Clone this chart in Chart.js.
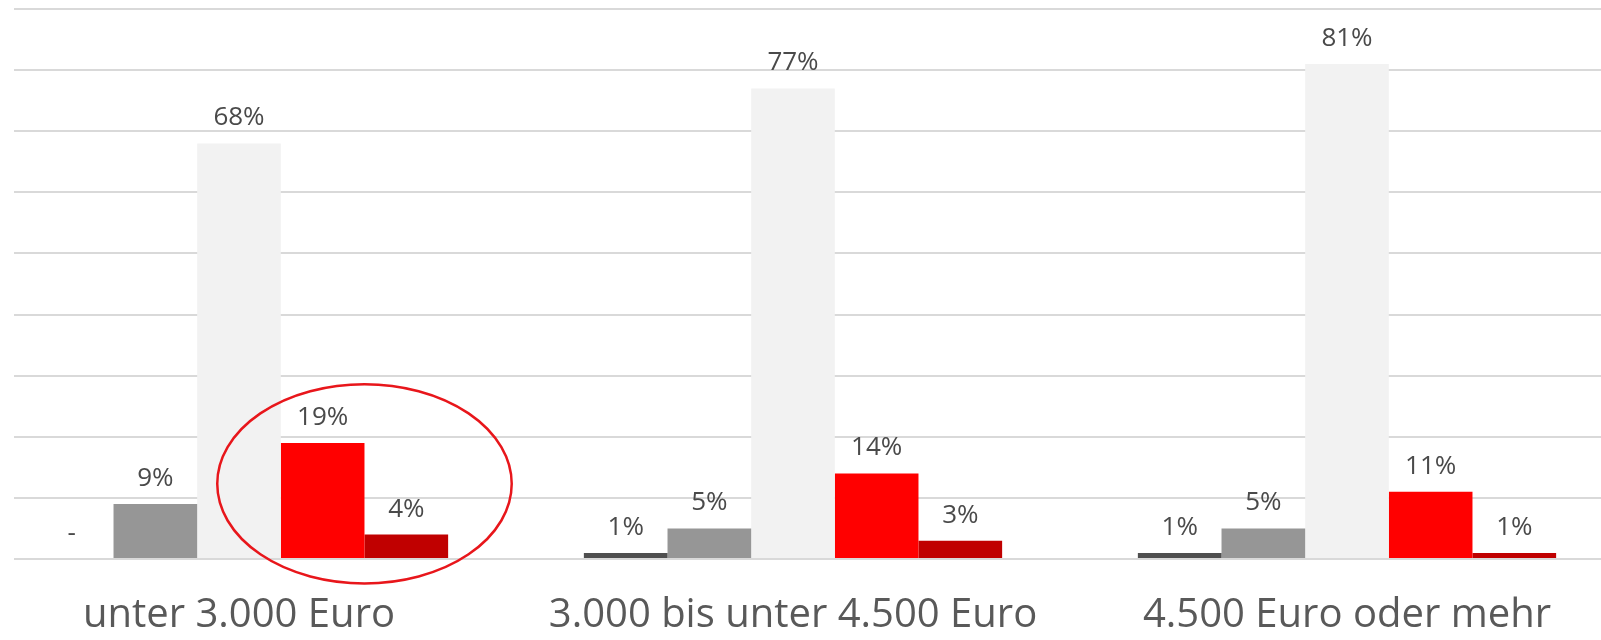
<!DOCTYPE html>
<html>
<head>
<meta charset="utf-8">
<script src="https://cdn.jsdelivr.net/npm/chart.js@4"></script>
<style>
  html, body { margin: 0; padding: 0; background: #fff; overflow: hidden; }
  #wrap { position: relative; width: 1601px; height: 640px; overflow: hidden; }
  #chart { position: absolute; left: -38px; top: 0; }
</style>
</head>
<body>
<div id="wrap"><canvas id="chart" width="1662" height="640"></canvas></div>
<script>
const categories = ["unter 3.000 Euro", "3.000 bis unter 4.500 Euro", "4.500 Euro oder mehr"];

const serie1 = [0, 1, 1];
const serie2 = [9, 5, 5];
const serie3 = [68, 77, 81];
const serie4 = [19, 14, 11];
const serie5 = [4, 3, 1];

const cores = ["#4f4f4f", "#969696", "#f2f2f2", "#ff0000", "#c00000"];

const yTicks = [0, 10, 20, 30, 40, 50, 60, 70, 80, 90];

// rótulos em cima das barras
const rotulos = {
  id: "rotulos",
  afterDatasetsDraw(chart) {
    const ctx = chart.ctx;
    ctx.save();
    ctx.font = "26px 'Open Sans'";
    ctx.fillStyle = "#4a4a4a";
    ctx.textAlign = "center";
    ctx.textBaseline = "alphabetic";
    chart.data.datasets.forEach((ds, i) => {
      chart.getDatasetMeta(i).data.forEach((bar, j) => {
        const v = ds.data[j];
        const txt = v === 0 ? "-" : v + "%";
        ctx.fillText(txt, bar.x, bar.y - 18);
      });
    });
    ctx.restore();
  }
};

// elipse vermelha em volta das barras vermelhas do primeiro grupo
const elipse = {
  id: "elipse",
  afterDraw(chart) {
    const ctx = chart.ctx;
    const y = chart.scales.y;
    const red = chart.getDatasetMeta(3).data[0];
    const cx = red.x + red.width / 2;
    const cy = y.getPixelForValue(12.3);
    const ry = y.getPixelForValue(0) - y.getPixelForValue(16.3);
    const rx = red.width * 1.76;
    ctx.save();
    ctx.strokeStyle = "#e8161b";
    ctx.lineWidth = 2.5;
    ctx.beginPath();
    ctx.ellipse(cx, cy, rx, ry, 0, 0, Math.PI * 2);
    ctx.stroke();
    ctx.restore();
  }
};

// corta as linhas de grade à esquerda
const margemEsq = {
  id: "margemEsq",
  beforeDatasetsDraw(chart) {
    const ctx = chart.ctx;
    ctx.save();
    ctx.fillStyle = "#ffffff";
    ctx.fillRect(0, 0, 52, chart.chartArea.bottom + 3);
    ctx.restore();
  }
};

const ctx = document.getElementById("chart").getContext("2d");
new Chart(ctx, {
  type: "bar",
  data: {
    labels: categories,
    datasets: [serie1, serie2, serie3, serie4, serie5].map((d, i) => ({
      data: d,
      backgroundColor: cores[i],
      borderWidth: 0,
      categoryPercentage: 0.755,
      barPercentage: 1.0
    }))
  },
  options: {
    responsive: false,
    animation: false,
    devicePixelRatio: 1,
    layout: { padding: { top: 9, left: 0, right: 0, bottom: 0 } },
    plugins: { legend: { display: false }, tooltip: { enabled: false } },
    scales: {
      x: {
        offset: true,
        grid: { display: false, drawTicks: false },
        border: { display: false },
        ticks: {
          color: "#595959",
          font: { family: "'Open Sans'", size: 40 },
          padding: 33,
          maxRotation: 0,
          autoSkip: false
        },
        afterFit(scale) { scale.height = 81; }
      },
      y: {
        min: 0,
        max: 90,
        afterBuildTicks(scale) { scale.ticks = yTicks.map(v => ({ value: v })); },
        grid: { color: "#d9d9d9", lineWidth: 2, drawTicks: false },
        border: { display: false },
        ticks: { display: false },
        afterFit(scale) { scale.width = 0; }
      }
    }
  },
  plugins: [margemEsq, rotulos, elipse]
});
</script>
</body>
</html>
